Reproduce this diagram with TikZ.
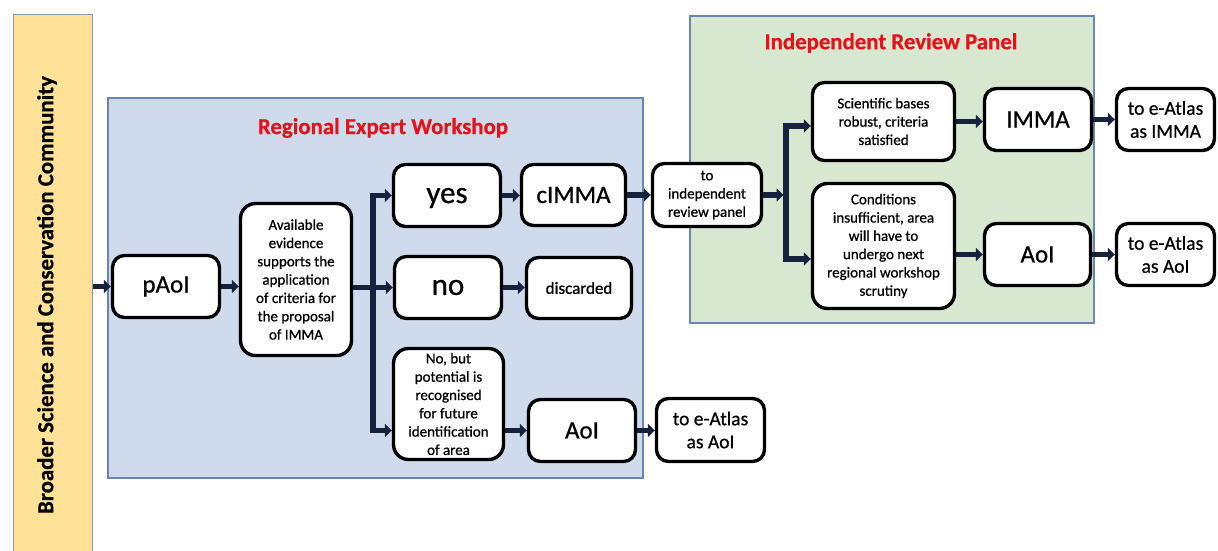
\documentclass[tikz,border=0pt]{standalone}
\usepackage{fontspec}
\setmainfont{Carlito}[FakeBold=0.7]
\usetikzlibrary{arrows.meta,calc}
\definecolor{bandfill}{HTML}{FFE298}
\definecolor{bandb}{HTML}{8A9AB0}
\definecolor{bluefill}{HTML}{CFDAEC}
\definecolor{greenfill}{HTML}{D8E7CF}
\definecolor{panelb}{HTML}{6A86B0}
\definecolor{titlered}{HTML}{E3131B}
\definecolor{arrowc}{HTML}{16223D}
\begin{document}
\begin{tikzpicture}[x=1pt,y=-1pt,
  box/.style={draw=black,line width=3.4pt,rounded corners=12pt,fill=white,align=center,inner sep=0pt},
  tall/.style={rounded corners=15pt},
  bigt/.style={font=\fontsize{25}{30}\selectfont},
  hugt/.style={font=\fontsize{31}{36}\selectfont},
  smallt/.style={font=\fontsize{15}{18.3}\selectfont},
  midt/.style={font=\fontsize{19.5}{23}\selectfont},
  disct/.style={font=\fontsize{17}{20}\selectfont},
  arr/.style={draw=arrowc,line width=5.5pt,line join=miter,-{Triangle[length=7pt,width=13pt]}},
  panel/.style={draw=panelb,line width=1.2pt,inner sep=0pt},
  ttl/.style={text=titlered,font=\bfseries\fontsize{22.8}{27}\selectfont}]
\useasboundingbox (0,0) rectangle (1218,551);
% band
\node[draw=bandb,fill=bandfill,line width=1pt,inner sep=0pt,minimum width=79pt,minimum height=560pt] (band) at (52.5,295) {};
\node[rotate=90,font=\bfseries\fontsize{22.8}{27}\selectfont] (bandt) at (47,295) {Broader Science and Conservation Community};
% panels
\node[panel,fill=bluefill,minimum width=535pt,minimum height=380pt] (rew) at (375.5,288) {};
\node[panel,fill=greenfill,minimum width=404pt,minimum height=307pt] (irp) at (892,169.5) {};
\node[ttl] (rewt) at (383,128) {Regional Expert Workshop};
\node[ttl] (irpt) at (891,43) {Independent Review Panel};
% boxes
\node[box,bigt,minimum width=107pt,minimum height=62pt] (pAoI) at (166,286.5) {pAoI};
\node[box,tall,smallt,minimum width=111pt,minimum height=152pt] (avail) at (296,279.5) {Available\\evidence\\supports the\\application\\of criteria for\\the proposal\\of IMMA};
\node[box,hugt,text depth=0pt,minimum width=107pt,minimum height=62pt] (yes) at (447,195.5) {yes};
\node[box,bigt,minimum width=104pt,minimum height=61pt] (cimma) at (573.5,195) {cIMMA};
\node[box,hugt,minimum width=107pt,minimum height=62pt] (no) at (448,287.5) {no};
\node[box,disct,minimum width=105pt,minimum height=61pt] (disc) at (579,288) {discarded};
\node[box,tall,smallt,minimum width=110pt,minimum height=111pt] (nobut) at (448.5,404) {No, but\\potential is\\recognised\\for future\\identification\\of area};
\node[box,bigt,minimum width=107pt,minimum height=62pt] (aoiL) at (582,430.5) {AoI};
\node[box,midt,minimum width=108pt,minimum height=63pt] (eatL) at (710.5,430) {to e-Atlas\\as AoI};
\node[box,smallt,minimum width=109pt,minimum height=63pt] (indep) at (707,195) {to\\independent\\review panel};
\node[box,smallt,minimum width=142pt,minimum height=78pt] (sci) at (883.5,121.5) {Scientific bases\\robust, criteria\\satisfied};
\node[box,tall,smallt,minimum width=142pt,minimum height=125pt] (cond) at (883.5,246) {Conditions\\insufficient, area\\will have to\\undergo next\\regional workshop\\scrutiny};
\node[box,bigt,minimum width=107pt,minimum height=62pt] (imma) at (1038,119.5) {IMMA};
\node[box,midt,minimum width=98pt,minimum height=62pt] (eatR1) at (1165.5,119.5) {to e-Atlas\\as IMMA};
\node[box,bigt,minimum width=106pt,minimum height=62pt] (aoiR) at (1037.5,254.5) {AoI};
\node[box,midt,minimum width=98pt,minimum height=62pt] (eatR2) at (1165.5,254.5) {to e-Atlas\\as AoI};
% bus coordinates
\coordinate (busL) at (373,287.5);
\coordinate (busR) at (786,195);
\coordinate (busRt) at (786,126);
\coordinate (busRb) at (786,259);
% arrows
\draw[arr] (band.east |- pAoI.west) -- (pAoI.west);
\draw[arr] (pAoI.east) -- (pAoI.east -| avail.west);
\draw[arr] (avail.east |- no.west) -- (no.west);
\draw[arr] (busL) |- (yes.west);
\draw[arr] (busL) |- (nobut.west |- aoiL.west);
\draw[arr] (yes.east) -- (yes.east -| cimma.west);
\draw[arr] (cimma.east) -- (cimma.east -| indep.west);
\draw[arr] (no.east) -- (no.east -| disc.west);
\draw[arr] (nobut.east |- aoiL.west) -- (aoiL.west);
\draw[arr] (aoiL.east) -- (aoiL.east -| eatL.west);
\draw[arr] (indep.east) -- ($(busR)+(-2.5,0)$);
\draw[arr] (busR) |- (sci.west |- busRt);
\draw[arr] (busR) |- (cond.west |- busRb);
\draw[arr] (sci.east) -- (sci.east -| imma.west);
\draw[arr] (cond.east |- aoiR.west) -- (aoiR.west);
\draw[arr] (imma.east) -- (imma.east -| eatR1.west);
\draw[arr] (aoiR.east) -- (aoiR.east -| eatR2.west);
\end{tikzpicture}
\end{document}
